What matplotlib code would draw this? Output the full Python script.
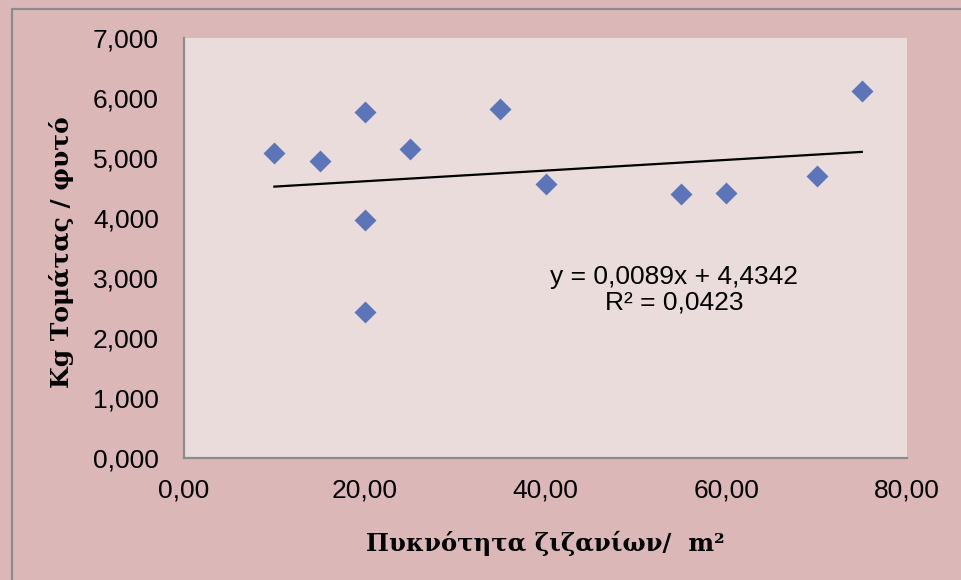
import numpy as np
import matplotlib.pyplot as plt
from matplotlib.ticker import FuncFormatter
from matplotlib.lines import Line2D

# weed density per m2 vs kg tomato per plant
density = [10, 15, 20, 20, 20, 25, 35, 40, 55, 60, 70, 75]
kg_per_plant = [5.08, 4.95, 5.77, 3.97, 2.43, 5.15, 5.82, 4.57, 4.40, 4.42, 4.70, 6.12]
slope = 0.0089
intercept = 4.4342
r2 = 0.0423

fig = plt.figure(figsize=(9.61, 5.80), dpi=100)
fig.patch.set_facecolor('#dbb7b7')
# chart frame: only the top and left edges are inside the picture
bx, by = 11.5 / 961, 1 - 8.5 / 580
fig.lines.append(Line2D([bx, bx, 1.01], [-0.01, by, by], transform=fig.transFigure,
                        color='#8c8c8c', linewidth=1.6))

ax = fig.add_axes([184/961, 1 - 458/580, (907 - 184)/961, (458 - 38)/580])
ax.set_facecolor('#ebdcdc')

ax.scatter(density, kg_per_plant, marker='D', s=125, color='#5b75b8',
           linewidths=0, zorder=3)

xs = np.array([min(density), max(density)])
ax.plot(xs, slope * xs + intercept, color='black', linewidth=1.6, zorder=2)

ax.set_xlim(0, 80)
ax.set_ylim(0, 7)
ax.set_xticks(range(0, 81, 20))
ax.set_yticks(range(0, 8))
ax.xaxis.set_major_formatter(FuncFormatter(lambda v, p: f"{v:.2f}".replace('.', ',')))
ax.yaxis.set_major_formatter(FuncFormatter(lambda v, p: f"{v:.3f}".replace('.', ',')))
ax.tick_params(axis='y', length=0, labelsize=19, pad=18)
ax.tick_params(axis='x', length=0, labelsize=19, pad=15)
for t in ax.get_xticklabels() + ax.get_yticklabels():
    t.set_family('Liberation Sans')

for s in ['top', 'right']:
    ax.spines[s].set_visible(False)
for s in ['left', 'bottom']:
    ax.spines[s].set_color('#8c8c8c')
    ax.spines[s].set_linewidth(1.6)

ax.set_xlabel('Πυκνότητα ζιζανίων/  m²', fontsize=17.5, fontweight='bold',
              family='DejaVu Serif', va='center')
ax.set_ylabel('Kg Τομάτας / φυτό', fontsize=18, fontweight='bold',
              family='DejaVu Serif', va='center')
ax.xaxis.set_label_coords((545 - 184) / 723, (458 - 543) / 420)
ax.yaxis.set_label_coords((62 - 184) / 723, (458 - 252) / 420)

eq = f"y = {slope:.4f}x + {intercept:.4f}".replace('.', ',')
rr = f"R² = {r2:.4f}".replace('.', ',')
ax.text(54.2, 2.8, eq + '\n' + rr, ha='center', va='center', fontsize=19,
        family='Liberation Sans', linespacing=1.1)

fig.savefig('out.png', dpi=100, facecolor=fig.get_facecolor())
